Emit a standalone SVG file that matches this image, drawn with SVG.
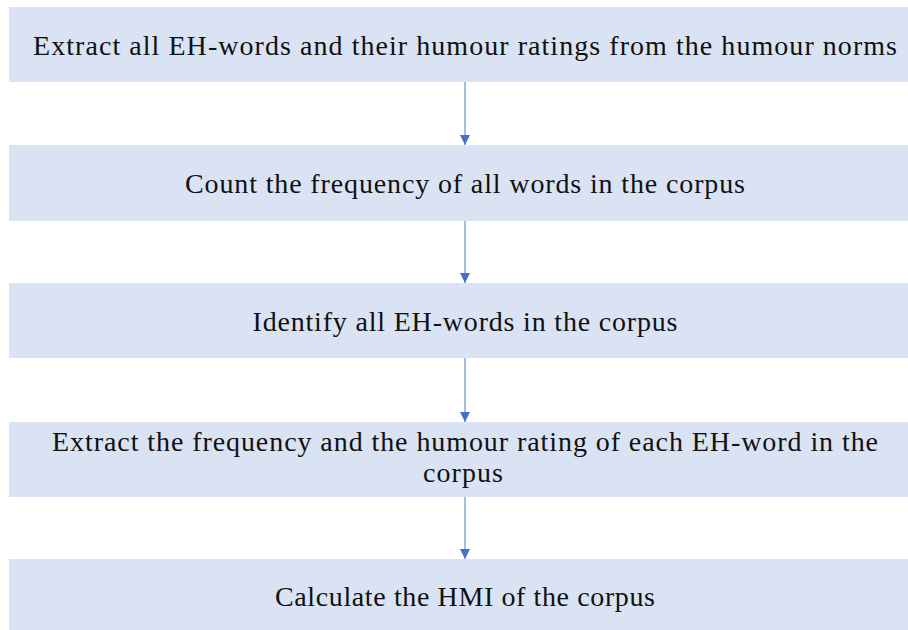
<svg xmlns="http://www.w3.org/2000/svg" width="908" height="630" viewBox="0 0 908 630">
<style>
.box{fill:#dae3f3;}
.t{font-family:"Liberation Serif","Times New Roman",serif;font-size:28px;fill:#111;text-anchor:middle;}
.c{stroke:#6f8fcc;stroke-width:1.2;fill:none;}
</style>
<defs>
<marker id="ah" viewBox="0 0 10 10" refX="10" refY="5" markerWidth="10" markerHeight="10" markerUnits="userSpaceOnUse" orient="auto">
<path d="M0,0 L10,5 L0,10 Z" fill="#4472c4"/>
</marker>
</defs>
<rect width="908" height="630" fill="#ffffff"/>
<g id="n1"><rect class="box" x="9" y="7" width="899" height="75"/><text class="t" x="465" y="55" textLength="864" lengthAdjust="spacing">Extract all EH-words and their humour ratings from the humour norms</text></g>
<g id="n2"><rect class="box" x="9" y="145" width="899" height="76"/><text class="t" x="465" y="193" textLength="560" lengthAdjust="spacing">Count the frequency of all words in the corpus</text></g>
<g id="n3"><rect class="box" x="9" y="283" width="899" height="75"/><text class="t" x="465" y="331" textLength="425" lengthAdjust="spacing">Identify all EH-words in the corpus</text></g>
<g id="n4"><rect class="box" x="9" y="422" width="899" height="75"/><text class="t" x="465" y="451" textLength="826" lengthAdjust="spacing">Extract the frequency and the humour rating of each EH-word in the</text><text class="t" x="463" y="482" textLength="80" lengthAdjust="spacing">corpus</text></g>
<g id="n5"><rect class="box" x="9" y="559" width="899" height="71"/><text class="t" x="465" y="606" textLength="380" lengthAdjust="spacing">Calculate the HMI of the corpus</text></g>
<g id="connectors">
<line class="c" x1="465" y1="82" x2="465" y2="145" marker-end="url(#ah)"/>
<line class="c" x1="465" y1="221" x2="465" y2="283" marker-end="url(#ah)"/>
<line class="c" x1="465" y1="358" x2="465" y2="422" marker-end="url(#ah)"/>
<line class="c" x1="465" y1="497" x2="465" y2="559" marker-end="url(#ah)"/>
</g>
</svg>
